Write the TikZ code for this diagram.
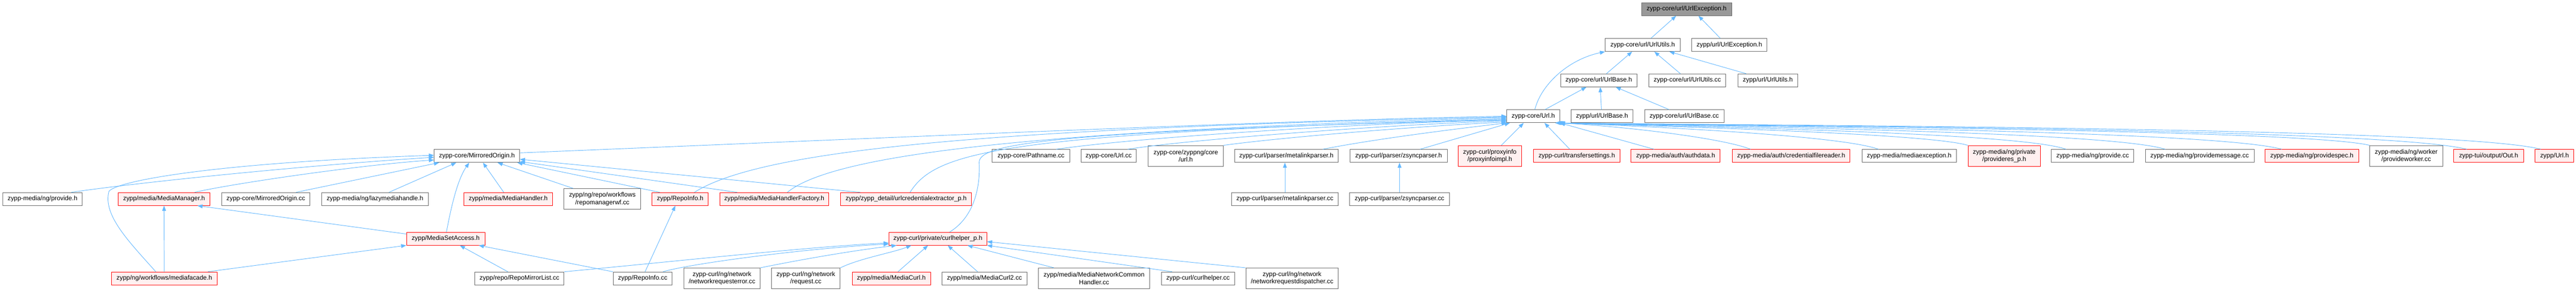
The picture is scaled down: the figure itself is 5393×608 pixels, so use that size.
\documentclass[tikz,border=0pt]{standalone}
\usepackage{fontspec}
\setmainfont{Liberation Sans}
\usetikzlibrary{arrows.meta,calc}
\definecolor{edgeblue}{HTML}{63B8FF}
\definecolor{nodegray}{HTML}{666666}
\definecolor{redfill}{HTML}{FFF0F0}
\definecolor{rootgray}{HTML}{999999}
\tikzset{
  nb/.style={draw=nodegray, fill=white, line width=0.75pt, inner sep=0pt, minimum height=20.25pt,
    font=\fontsize{10}{11.6}\selectfont, text=black, align=center},
  nr/.style={nb, draw=red, fill=redfill},
  nroot/.style={nb, fill=rootgray},
  two/.style={minimum height=32.6pt},
  dep/.style={draw=edgeblue, line width=0.75pt, -{Triangle[length=8pt,width=6pt]}}
}
\begin{document}
\begin{tikzpicture}[x=0.75pt,y=-0.75pt]
\fill[white] (0,0) rectangle (5393,608);
\useasboundingbox (0,0) rectangle (5393,608);
% ---- nodes ----
\node[nroot, minimum width=141.75pt] (A0) at (3531,19) {zypp-core/url/UrlException.h};
\node[nb, minimum width=117.4pt] (B1) at (3439,94) {zypp-core/url/UrlUtils.h};
\node[nb, minimum width=117.75pt] (B2) at (3620.5,94) {zypp/url/UrlException.h};
\node[nb, minimum width=120pt] (C1) at (3347,168) {zypp-core/url/UrlBase.h};
\node[nb, minimum width=120.75pt] (C2) at (3532.5,168) {zypp-core/url/UrlUtils.cc};
\node[nb, minimum width=93.75pt] (C3) at (3701,168) {zypp/url/UrlUtils.h};
\node[nb, minimum width=82.9pt] (D1) at (3210,243) {zypp-core/Url.h};
\node[nb, minimum width=97.5pt] (D2) at (3354,243) {zypp/url/UrlBase.h};
\node[nb, minimum width=124.5pt] (D3) at (3526,243) {zypp-core/url/UrlBase.cc};
\node[nb, minimum width=134.25pt] (E1) at (998.5,326) {zypp-core/MirroredOrigin.h};
\node[nb, minimum width=122.25pt] (E2) at (2158.5,326) {zypp-core/Pathname.cc};
\node[nb, minimum width=87pt] (E3) at (2321,326) {zypp-core/Url.cc};
\node[nb, two, minimum width=117.75pt] (E4) at (2482.5,326) {zypp-core/zyppng/core\\/url.h};
\node[nb, minimum width=162.5pt] (E5) at (2693,326) {zypp-curl/parser/metalinkparser.h};
\node[nb, minimum width=152.6pt] (E6) at (2928,326) {zypp-curl/parser/zsyncparser.h};
\node[nr, two, minimum width=99.5pt] (E7) at (3119,326) {zypp-curl/proxyinfo\\/proxyinfoimpl.h};
\node[nr, minimum width=136.3pt] (E8) at (3301,326) {zypp-curl/transfersettings.h};
\node[nr, minimum width=140pt] (E9) at (3508,326) {zypp-media/auth/authdata.h};
\node[nr, minimum width=184.5pt] (E10) at (3750,326) {zypp-media/auth/credentialfilereader.h};
\node[nb, minimum width=147.75pt] (E11) at (3997,326) {zypp-media/mediaexception.h};
\node[nr, two, minimum width=113.7pt] (E12) at (4196,326) {zypp-media/ng/private\\/provideres\_p.h};
\node[nb, minimum width=129.3pt] (E13) at (4381,326) {zypp-media/ng/provide.cc};
\node[nb, minimum width=170.7pt] (E14) at (4605,326) {zypp-media/ng/providemessage.cc};
\node[nr, minimum width=147pt] (E15) at (4840,326) {zypp-media/ng/providespec.h};
\node[nb, two, minimum width=114.2pt] (E16) at (5037.5,326) {zypp-media/ng/worker\\/provideworker.cc};
\node[nr, minimum width=109.9pt] (E17) at (5210,326) {zypp-tui/output/Out.h};
\node[nr, minimum width=60.75pt] (E18) at (5348,326) {zypp/Url.h};
\node[nb, minimum width=124.7pt] (F1) at (89,416) {zypp-media/ng/provide.h};
\node[nr, minimum width=144.75pt] (F2) at (343.5,416) {zypp/media/MediaManager.h};
\node[nb, minimum width=138.75pt] (F3) at (556.5,416) {zypp-core/MirroredOrigin.cc};
\node[nb, minimum width=168pt] (F4) at (785,416) {zypp-media/ng/lazymediahandle.h};
\node[nr, minimum width=139.5pt] (F5) at (1064,416) {zypp/media/MediaHandler.h};
\node[nb, two, minimum width=120pt] (F6) at (1261,416) {zypp/ng/repo/workflows\\/repomanagerwf.cc};
\node[nr, minimum width=88.5pt] (F7) at (1424,416) {zypp/RepoInfo.h};
\node[nr, minimum width=171pt] (F8) at (1621,416) {zypp/media/MediaHandlerFactory.h};
\node[nr, minimum width=205.5pt] (F9) at (1897,416) {zypp/zypp\_detail/urlcredentialextractor\_p.h};
\node[nb, minimum width=168pt] (F10) at (2690,416) {zypp-curl/parser/metalinkparser.cc};
\node[nb, minimum width=156.5pt] (F11) at (2930,416) {zypp-curl/parser/zsyncparser.cc};
\node[nr, minimum width=123pt] (G1) at (933,499) {zypp/MediaSetAccess.h};
\node[nr, minimum width=153.75pt] (G2) at (1963.5,499) {zypp-curl/private/curlhelper\_p.h};
\node[nr, minimum width=166.5pt] (H1) at (344,582) {zypp/ng/workflows/mediafacade.h};
\node[nb, minimum width=140.25pt] (H2) at (1087.5,582) {zypp/repo/RepoMirrorList.cc};
\node[nb, minimum width=93pt] (H3) at (1345.5,582) {zypp/RepoInfo.cc};
\node[nb, two, minimum width=120pt] (H4) at (1511.5,582) {zypp-curl/ng/network\\/networkrequesterror.cc};
\node[nb, two, minimum width=108pt] (H5) at (1687,582) {zypp-curl/ng/network\\/request.cc};
\node[nr, minimum width=123pt] (H6) at (1866,582) {zypp/media/MediaCurl.h};
\node[nb, minimum width=133.5pt] (H7) at (2061,582) {zypp/media/MediaCurl2.cc};
\node[nb, two, minimum width=174.75pt] (H8) at (2290.5,582) {zypp/media/MediaNetworkCommon\\Handler.cc};
\node[nb, minimum width=115.1pt] (H9) at (2508,582) {zypp-curl/curlhelper.cc};
\node[nb, two, minimum width=145.5pt] (H10) at (2705,582) {zypp-curl/ng/network\\/networkrequestdispatcher.cc};
% ---- top edges ----
\draw[dep] ($(B1.north west)!0.61!(B1.north east)$) -- ($(A0.south west)!0.385!(A0.south east)$);
\draw[dep] ($(B2.north west)!0.38!(B2.north east)$) -- ($(A0.south west)!0.63!(A0.south east)$);
\draw[dep] ($(C1.north west)!0.6!(C1.north east)$) -- ($(B1.south west)!0.36!(B1.south east)$);
\draw[dep] ($(C2.north west)!0.41!(C2.north east)$) -- ($(B1.south west)!0.655!(B1.south east)$);
\draw[dep] ($(C3.north west)!0.14!(C3.north east)$) -- ($(B1.south west)!0.855!(B1.south east)$);
\draw[dep] ($(D1.north west)!0.53!(D1.north east)$) .. controls (3225,180) and (3280,125) .. (B1.south west);
\draw[dep] ($(D1.north west)!0.72!(D1.north east)$) -- ($(C1.south west)!0.34!(C1.south east)$);
\draw[dep] ($(D2.north west)!0.49!(D2.north east)$) -- ($(C1.south west)!0.52!(C1.south east)$);
\draw[dep] ($(D3.north west)!0.31!(D3.north east)$) -- ($(C1.south west)!0.72!(C1.south east)$);
% ---- into Url.h from the left ----
\draw[dep] ($(E1.north east)!0.27!(E1.south east)$) .. controls (1700,295) and (2700,250) .. ($(D1.north west)!0.5!(D1.south west)$);
\draw[dep] ($(F7.north west)!0.75!(F7.north east)$) .. controls (1600,310) and (2100,268) .. ($(D1.north west)!0.55!(D1.south west)$);
\draw[dep] ($(F8.north west)!0.62!(F8.north east)$) .. controls (1760,310) and (2300,270) .. ($(D1.north west)!0.6!(D1.south west)$);
\draw[dep] ($(F9.north west)!0.53!(F9.north east)$) .. controls (1960,315) and (2100,280) .. ($(D1.north west)!0.68!(D1.south west)$);
\draw[dep] ($(G2.north west)!0.62!(G2.north east)$) .. controls (2045,450) and (2052,380) .. (2050,340) .. controls (2048,300) and (2200,275) .. ($(D1.north west)!0.75!(D1.south west)$);
\draw[dep] ($(E2.north west)!0.82!(E2.north east)$) .. controls (2400,285) and (2900,255) .. ($(D1.north west)!0.8!(D1.south west)$);
\draw[dep] ($(E3.north west)!0.84!(E3.north east)$) .. controls (2500,290) and (2950,258) .. ($(D1.north west)!0.86!(D1.south west)$);
\draw[dep] (E4.north east) .. controls (2700,285) and (3000,262) .. ($(D1.north west)!0.93!(D1.south west)$);
\draw[dep] ($(E5.north west)!0.85!(E5.north east)$) .. controls (2880,290) and (3060,268) .. (D1.south west);
\draw[dep] ($(E6.north west)!0.72!(E6.north east)$) -- ($(D1.south west)!0.06!(D1.south east)$);
\draw[dep] ($(E7.north west)!0.68!(E7.north east)$) -- ($(D1.south west)!0.32!(D1.south east)$);
\draw[dep] ($(E8.north west)!0.42!(E8.north east)$) -- ($(D1.south west)!0.71!(D1.south east)$);
\draw[dep] ($(E9.north west)!0.26!(E9.north east)$) -- (D1.south east);
% ---- into Url.h from the right ----
\draw[dep] ($(E10.north west)!0.155!(E10.north east)$) .. controls (3610,290) and (3420,266) .. (D1.south east);
\draw[dep] ($(E11.north west)!0.175!(E11.north east)$) .. controls (3860,285) and (3500,266) .. ($(D1.south west)!0.985!(D1.south east)$);
\draw[dep] (E12.north west) .. controls (4040,280) and (3550,266) .. ($(D1.south west)!0.97!(D1.south east)$);
\draw[dep] ($(E13.north west)!0.18!(E13.north east)$) .. controls (4230,278) and (3600,266) .. ($(D1.south west)!0.96!(D1.south east)$);
\draw[dep] ($(E14.north west)!0.185!(E14.north east)$) .. controls (4420,276) and (3650,265) .. ($(D1.south west)!0.95!(D1.south east)$);
\draw[dep] ($(E15.north west)!0.18!(E15.north east)$) .. controls (4640,274) and (3700,264) .. ($(D1.south west)!0.94!(D1.south east)$);
\draw[dep] (E16.north west) .. controls (4830,272) and (3750,264) .. ($(D1.south west)!0.93!(D1.south east)$);
\draw[dep] ($(E17.north west)!0.19!(E17.north east)$) .. controls (5000,270) and (3800,263) .. ($(D1.south west)!0.92!(D1.south east)$);
\draw[dep] ($(E18.north west)!0.15!(E18.north east)$) .. controls (5150,268) and (3850,263) .. ($(D1.south west)!0.91!(D1.south east)$);
% ---- into MirroredOrigin.h ----
\draw[dep] ($(F1.north west)!0.86!(F1.north east)$) .. controls (300,380) and (650,345) .. ($(E1.north west)!0.6!(E1.south west)$);
\draw[dep] ($(H1.north west)!0.42!(H1.north east)$) .. controls (270,505) and (215,450) .. (228,400) .. controls (245,378) and (450,340) .. ($(E1.north west)!0.45!(E1.south west)$);
\draw[dep] ($(F2.north west)!0.83!(F2.north east)$) .. controls (480,385) and (750,345) .. ($(E1.north west)!0.8!(E1.south west)$);
\draw[dep] ($(F3.north west)!0.84!(F3.north east)$) -- ($(E1.south west)!0.06!(E1.south east)$);
\draw[dep] ($(F4.north west)!0.63!(F4.north east)$) -- ($(E1.south west)!0.26!(E1.south east)$);
\draw[dep] ($(G1.north west)!0.51!(G1.north east)$) .. controls (945,430) and (958,375) .. ($(E1.south west)!0.41!(E1.south east)$);
\draw[dep] ($(F5.north west)!0.45!(F5.north east)$) -- ($(E1.south west)!0.57!(E1.south east)$);
\draw[dep] ($(F6.north west)!0.12!(F6.north east)$) -- ($(E1.south west)!0.74!(E1.south east)$);
\draw[dep] ($(F7.north west)!0.14!(F7.north east)$) -- ($(E1.south west)!0.97!(E1.south east)$);
\draw[dep] ($(F8.north west)!0.16!(F8.north east)$) -- ($(E1.north east)!0.92!(E1.south east)$);
\draw[dep] ($(F9.north west)!0.15!(F9.north east)$) -- ($(E1.north east)!0.75!(E1.south east)$);
% ---- MediaManager.h, MediaSetAccess.h, RepoInfo.h ----
\draw[dep] (H1.north) -- (F2.south);
\draw[dep] ($(G1.north west)!0.15!(G1.south west)$) -- ($(F2.south west)!0.86!(F2.south east)$);
\draw[dep] ($(H1.north west)!0.91!(H1.north east)$) -- (G1.south west);
\draw[dep] ($(H2.north west)!0.37!(H2.north east)$) -- ($(G1.south west)!0.68!(G1.south east)$);
\draw[dep] (H3.north west) -- ($(G1.south west)!0.92!(G1.south east)$);
\draw[dep] ($(H3.north west)!0.54!(H3.north east)$) -- ($(F7.south west)!0.415!(F7.south east)$);
% ---- into curlhelper_p.h ----
\draw[dep] (H2.north east) .. controls (1400,548) and (1700,515) .. ($(G2.north west)!0.82!(G2.south west)$);
\draw[dep] ($(H3.north west)!0.84!(H3.north east)$) .. controls (1450,550) and (1700,518) .. ($(G2.north west)!0.9!(G2.south west)$);
\draw[dep] (H4.north east) .. controls (1700,538) and (1800,522) .. ($(G2.south west)!0.08!(G2.south east)$);
\draw[dep] (H5.north east) .. controls (1800,540) and (1870,528) .. ($(G2.south west)!0.23!(G2.south east)$);
\draw[dep] ($(H6.north west)!0.585!(H6.north east)$) -- ($(G2.south west)!0.4!(G2.south east)$);
\draw[dep] ($(H7.north west)!0.42!(H7.north east)$) -- ($(G2.south west)!0.6!(G2.south east)$);
\draw[dep] ($(H8.north west)!0.14!(H8.north east)$) -- ($(G2.south west)!0.8!(G2.south east)$);
\draw[dep] ($(H9.north west)!0.15!(H9.north east)$) -- (G2.south east);
\draw[dep] (H10.north west) -- ($(G2.north east)!0.72!(G2.south east)$);
% ---- parsers ----
\draw[dep] (F10.north) -- (F10.north |- E5.south);
\draw[dep] (F11.north) -- (F11.north |- E6.south);
\end{tikzpicture}
\end{document}
